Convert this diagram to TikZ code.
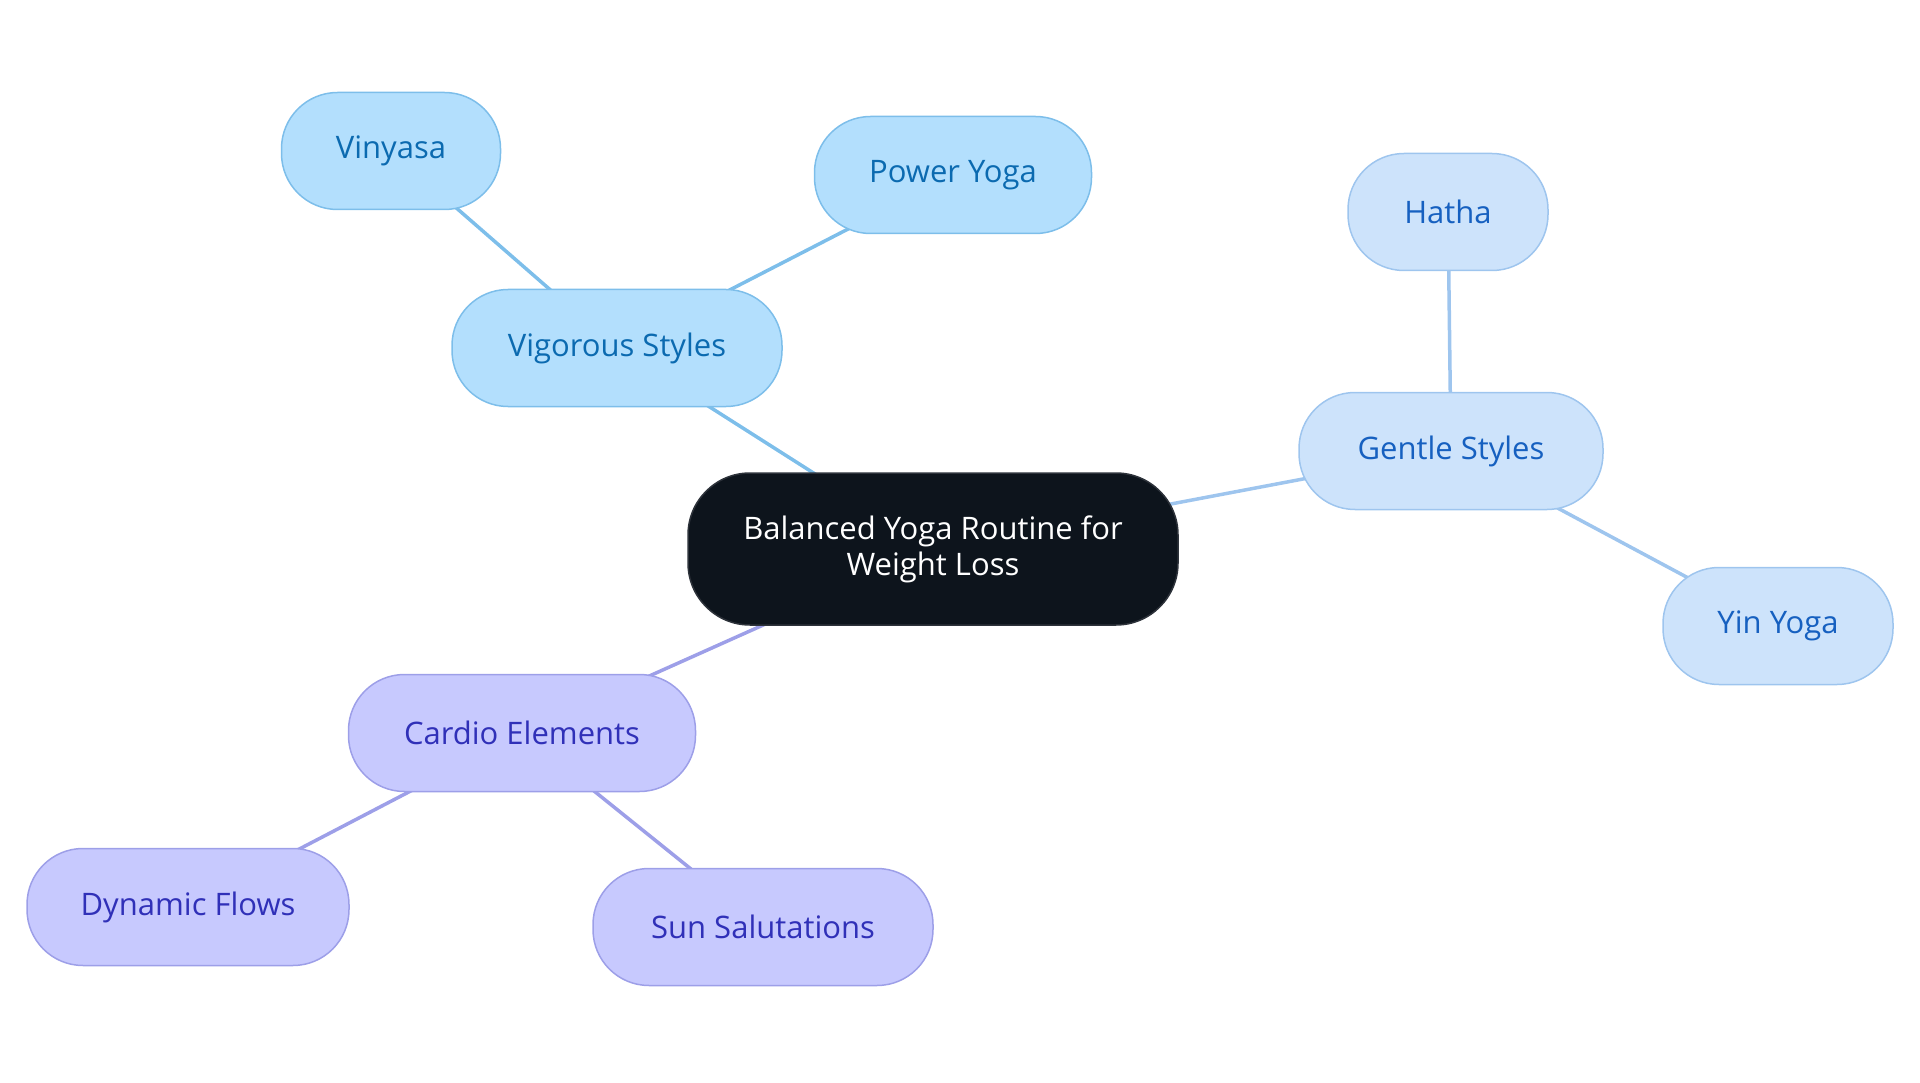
\documentclass[tikz,border=0pt]{standalone}
\usepackage{fontspec}
\setmainfont{Open Sans}
\usetikzlibrary{positioning,backgrounds}
\definecolor{rFill}{RGB}{13,20,28}
\definecolor{rLine}{RGB}{45,50,58}
\definecolor{vFill}{RGB}{179,223,253}
\definecolor{vLine}{RGB}{125,190,234}
\definecolor{vText}{RGB}{11,106,176}
\definecolor{gFill}{RGB}{205,227,251}
\definecolor{gLine}{RGB}{158,197,238}
\definecolor{gText}{RGB}{22,96,192}
\definecolor{cFill}{RGB}{199,201,254}
\definecolor{cLine}{RGB}{157,159,232}
\definecolor{cText}{RGB}{48,48,184}
\tikzset{
  topic/.style={rectangle, rounded corners=56pt, minimum height=117pt,
                align=center, line width=1.5pt,
                font=\fontsize{31}{36}\selectfont},
  root/.style={topic, draw=rLine, fill=rFill, text=white,
               minimum width=490pt, minimum height=152pt, rounded corners=62pt},
  vig/.style={topic, draw=vLine, fill=vFill, text=vText},
  gen/.style={topic, draw=gLine, fill=gFill, text=gText},
  car/.style={topic, draw=cLine, fill=cFill, text=cText},
  link/.style={line width=3.5pt},
}

\begin{document}
\begin{tikzpicture}[x=1pt, y=-1pt]
  \useasboundingbox (0,0) rectangle (1920,1083);
  \node[root] (yoga) at (933,549) {Balanced Yoga Routine for\\ Weight Loss};
  % vigorous branch
  \node[vig, minimum width=330pt] (vigor) at (617,348) {Vigorous Styles};
  \node[vig, minimum width=219pt] (viny) at (391,151) {Vinyasa};
  \node[vig, minimum width=277pt] (power) at (953,175) {Power Yoga};
  % gentle branch
  \node[gen, minimum width=304pt] (gentle) at (1451,451) {Gentle Styles};
  \node[gen, minimum width=200pt] (hatha) at (1448,212) {Hatha};
  \node[gen, minimum width=230pt] (yin) at (1778,626) {Yin Yoga};
  % cardio branch
  \node[car, minimum width=347pt] (cardio) at (522,733) {Cardio Elements};
  \node[car, minimum width=322pt] (dyn) at (188,907) {Dynamic Flows};
  \node[car, minimum width=340pt] (sun) at (763,927) {Sun Salutations};
  \begin{scope}[on background layer]
    \draw[link, vLine] (yoga.center) -- (vigor.center);
    \draw[link, vLine] (vigor.center) -- (viny.center);
    \draw[link, vLine] (vigor.center) -- (power.center);
    \draw[link, gLine] (yoga.center) -- (gentle.center);
    \draw[link, gLine] (gentle.center) -- (hatha.center);
    \draw[link, gLine] (gentle.center) -- (yin.center);
    \draw[link, cLine] (yoga.center) -- (cardio.center);
    \draw[link, cLine] (cardio.center) -- (dyn.center);
    \draw[link, cLine] (cardio.center) -- (sun.center);
  \end{scope}
\end{tikzpicture}
\end{document}
